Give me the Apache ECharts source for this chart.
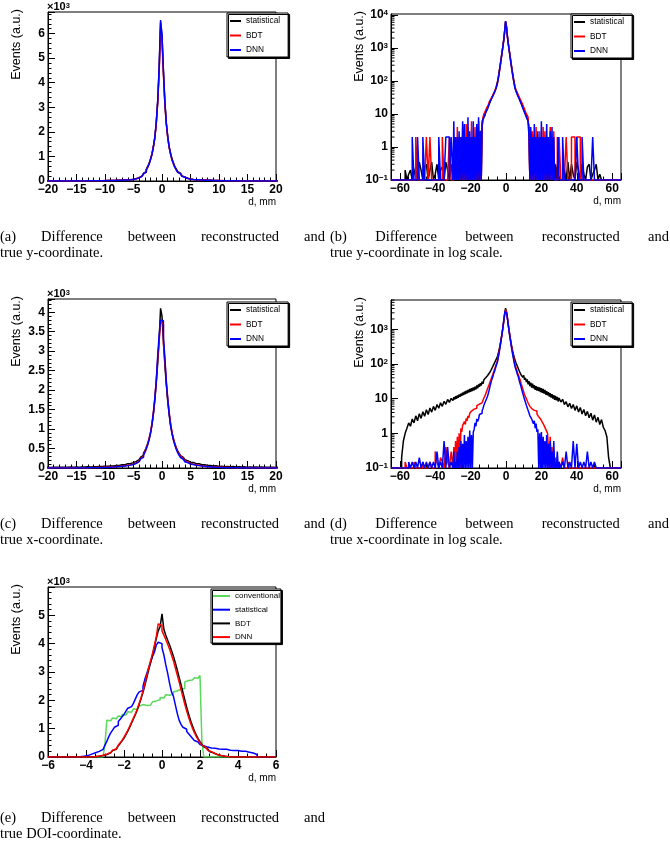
<!DOCTYPE html>
<html><head><meta charset="utf-8">
<script src="https://cdn.jsdelivr.net/npm/echarts@6/dist/echarts.min.js"></script>
<style>html,body{margin:0;padding:0;background:#fff}#c{width:670px;height:852px}</style>
</head><body><div id="c"></div>
<script>
// ---------------- DATA ----------------
// Bin layout (mm) for the y- and x-coordinate histograms: [from, to, binWidth]
const xyBinSegments = [[-65,-30,1],[-30,-5,0.5],[-5,5,0.25],[5,30,0.5],[30,65,1]];
// DOI histogram binning
const doiBinSegments = [[-6,-4.5,1.5],[-4.5,5.2,0.1],[5.2,6,0.8]];

// y-coordinate difference (panels a,b). Core: bins -5..5 (natural order).
// Left/Right: listed outward from |d|=5 (0.5 mm bins to 30, then 1 mm bins to 65).
const yStatCore = [85,98,118,140,172,208,258,312,390,480,600,725,910,1110,1420,1780,2380,3250,4550,6450,5900,4450,3200,2360,1810,1400,1130,905,740,590,490,385,318,255,210,168,142,116,100,84];
const yStatRight = [66,55,48,40,36,30,27,22,20,16,15,12,11,9,8,6,
 4,0,3,0,2.5,0,2,0,1.6,0,1.3,0,1.1,0,0.9,0,0.8,0,0.6,0,0.5,0,0.45,0,0.4,0,0.35,0,0.3,0,0.3,0,0.25,0,
 0,0,0,0.2,0,0.35,0,0.3,0.15,0,0.35,0.2,0,0.3,0.15,0,0.25,0.3,0,0.15,0.2,0.3,0,0.15,0,0,0,0,0,0,0,0,0,0,0];
const yStatLeft = [67,54,47,41,35,31,26,23,20,17,14,13,11,9,8,7,
 4.2,0,3.1,0,2.4,0,1.9,0,1.5,0,1.2,0,1,0,0.85,0,0.7,0,0.6,0,0.5,0,0.4,0,0.35,0,0.3,0,0.3,0,0.25,0,0.2,0,
 0.3,0,0.2,0.35,0,0.25,0.2,0,0.3,0.15,0,0.35,0.2,0,0.3,0.25,0,0.2,0.35,0,0.25,0.15,0,0.2,0.15,0,0.2,0,0,0,0,0,0,0,0];
const yBdtCore = [80,92,110,130,160,195,240,295,368,455,575,700,890,1100,1400,1760,2350,3200,4400,6150,5650,4350,3150,2330,1790,1380,1100,880,712,565,462,362,298,240,198,158,134,108,95,80];
const yBdtRight = [65,56,49,42,38,32,30,25,23,19,18,14,13,10,10,8,
 2,0,2,0,3,0,2,0,4,0,2,0,3,0,2,0,4,0,3,0,2,0,2,0,4,0,2,0,3,0,0,0,2,0,
 2,0,0,0,2,0,0,2,2,0,2,2,0,0,0,0,0,0,0,0,0,0,0,0,0,0,0,0,0,0,0,0,0,0,0];
const yBdtLeft = [66,55,48,42,37,32,29,25,23,19,17,15,13,11,10,8,
 4,0,2,0,6,0,2,0,4,0,2,0,6,0,2,0,4,0,5,0,2,0,4,0,2,0,2,0,4,0,2,0,2,0,
 0,2,0,0,0,2,0,0,0,0,0,0,2,0,2,0,0,0,0,0,2,0,0,0,0,0,0,0,0,0,0,0,0,0,0];
const yDnnCore = [78,88,108,126,157,188,238,288,362,448,565,695,885,1090,1410,1790,2420,3280,4620,6550,5950,4500,3250,2380,1820,1390,1110,870,705,555,455,355,292,232,192,152,130,104,92,76];
const yDnnRight = [62,51,46,37,35,28,26,21,20,15,15,11,11,8,9,6,
 2,0,4,0,2,0,5,0,2,0,3,0,2,0,6,0,2,0,2,0,5,0,2,0,3,0,4,0,2,0,0,0,0,2,
 0,0,2,0,0,0,0,0,0,0,2,0,0,2,0,0,0,0,0,2,0,0,0,0,0,0,0,0,0,0,0,0,0,0,0];
const yDnnLeft = [63,52,45,39,33,30,25,24,19,17,14,12,11,9,8,7,
 6,0,3,0,8,0,5,0,2,0,6,0,2,0,3,0,8,0,2,0,5,0,6,0,2,0,3,0,2,0,2,0,6,0,
 2,0,2,2,0,0,0,2,0,0,0,0,0,0,0,0,2,0,0,2,0,0,2,0,0,0,0,0,0,0,0,0,0,0,0];

// x-coordinate difference (panels c,d), same layout
const xStatCore = [152,170,190,215,245,280,325,380,445,530,630,760,920,1120,1400,1750,2200,2700,3300,4100,3900,3250,2650,2150,1720,1380,1100,900,750,620,520,440,375,320,275,240,212,188,168,150];
const xStatRight = [140,112,110,85,86,63,67,49,55,41,47,35,40,30,36,26,32,23,29,21,27,20,24.5,18,23,17,22,16.5,21,15.5,20,14.8,19,14,17.8,13,16.5,12.5,15.5,11.5,14.5,10.8,13.5,10,12.6,9.3,12,8.9,11.3,8.3,
 10.5,8,9.6,6.8,8.2,5.8,7.4,5.2,6.8,4.6,6.2,4.1,5.6,3.6,4.9,3.2,4.3,2.8,3.8,2.4,3.4,2.1,2.9,1.8,2.5,1.5,1.2,0.8,0.2,0,0,0,0,0,0];
const xStatLeft = [138,114,108,86,84,64,66,50,54,42,46,36,40,31,35,27,31,24,28,22,26,20,24,18.5,22,17.5,21,16.5,20,15.8,19,15,18,14.2,17,13.5,16,12.8,15,12,14,11.3,13.2,10.6,12.4,10,11.8,9.4,11,8.8,
 10.2,7.8,9.5,6.9,8.4,6,7.6,5.3,6.8,4.6,6,4.1,5.4,3.5,4.8,3.1,4.2,2.7,3.7,2.3,3.2,2,2.6,1.6,2.0,1.4,1.0,0.6,0.2,0,0,0,0,0,0];
const xBdtCore = [115,133,155,180,212,250,295,350,420,510,620,750,920,1150,1450,1800,2250,2800,3250,3750,3700,3200,2750,2250,1800,1450,1150,920,750,620,510,420,350,295,250,212,180,155,133,115];
const xBdtRight = [98,82,69,56,49,40,35,28,25,19,17,13,12,10,9.5,7.5,7.5,6,6.5,5.2,5.8,4.6,5.2,4.1,4.4,3.6,3.8,3.0,3.3,2.6,2.7,2.1,2.3,1.7,1.8,1.3,1.4,1.0,1.1,0,0.8,0,0.4,0,0.3,0,0.2,0,0.15,0,
 0.15,0,0.2,0,0,0.15,0,0,0,0,0,0,0,0,0,0,0,0,0,0,0,0,0,0,0,0,0,0,0,0,0,0,0,0,0];
const xBdtLeft = [100,83,71,57,50,40,36,29,26,20,19,14,13.5,11,10.5,9,
 8.5,7.6,7.8,6.6,7.0,6.0,6.3,5.3,5.6,4.6,5.0,4.1,4.4,3.4,3.8,2.8,3.2,2.3,2.7,1.8,2.2,1.5,1.7,1.1,1.4,0,1.0,0,0.8,0,0.6,0,0.4,0,
 0.3,0,0.15,0.4,0,0.15,0.2,0,0.15,0.3,0,0,0.15,0,0,0,0.15,0,0,0,0,0.15,0,0,0,0,0.15,0,0,0,0,0,0,0,0];
const xDnnCore = [102,118,138,166,193,232,272,333,398,492,598,735,895,1125,1415,1805,2245,2900,3400,3800,3780,3350,2850,2200,1780,1400,1100,890,720,590,480,395,325,270,225,190,160,138,118,102];
const xDnnRight = [88,72,61,49,42,33,29,22,20,14,13,9.5,9,6.5,6.2,4.6,4.4,3.2,3.3,2.6,2.8,1.9,2.3,1.4,1.9,1.1,
 1.3,0,1.0,0,1.1,0,0.8,0,0.6,0,0.9,0,0.5,0,0.6,0,0.3,0,0.6,0,0.15,0,0.3,0,
 0.15,0,0.15,0,0.3,0,0.15,0,0.6,0,0.5,0,0.15,0,0.15,0,0.3,0,0.15,0,0.15,0,0,0,0,0,0,0,0,0,0,0,0,0,0];
const xDnnLeft = [90,74,61,52,42,36,29,23,18,14,11.5,10,8.5,7.5,6.5,5.2,4.5,3.8,3.2,3.5,2.6,2.2,2.6,1.6,2,1.3,
 1.1,0,0.9,0,1.2,0,0.8,0,0.6,0,0.9,0,0.5,0,0.6,0,0.4,0,0.3,0,0.15,0,0.3,0,
 0.15,0,0.4,0,0.6,0,0.15,0,0.3,0,0.15,0,0.15,0,0.15,0,0.15,0,0.2,0,0.15,0,0.15,0,0.15,0,0,0,0,0,0,0,0,0,0];

// DOI difference (panel e): first bin -6..-4.5, then 0.1 mm bins -4.5..5.2, last bin 5.2..6
const doiConv = [0, 0,0,0,0,0,0,0,0,0,0, 0,0,0,0,0,500,1300,1280,1350,1380, 1350,1420,1450,1420,1500,1480,1550,1600,1580,1650, 1700,1680,1750,1800,1850,1780,1820,1750,1830,1900, 1950,1980,2050,2020,2100,2080,2150,2200,2180,2250, 2220,2300,2330,2280,2400,2380,2420,2650,2700,2680, 2720,2700,2800,2780,2850,2880,550,0,0,0, 0,0,0,0,0,0,0,0,0,0, 0,0,0,0,0,0,0,0,0,0, 0,0,0,0,0,0,0, 0];
const doiStat = [0, 0,10,20,30,40,50,70,100,130,150, 170,200,230,270,330,420,560,720,850,950, 1050,1120,1250,1330,1420,1500,1620,1720,1780,1800, 1900,2050,2200,2300,2350,2500,2750,2950,3150,3350, 3550,3700,3950,4050,4000,3850,3600,3250,2950,2600, 2300,2150,1850,1550,1300,1150,1050,980,900,820, 740,660,580,530,480,440,400,370,350,330, 320,300,310,290,280,290,270,260,270,250, 240,250,230,220,230,210,200,190,200,180, 170,160,140,120,90,0,0, 0];
const doiBdt = [0, 0,0,0,0,0,0,0,3,6,10, 16,25,36,50,68,88,115,145,180,225, 275,335,400,480,570,670,790,910,1050,1200, 1350,1500,1670,1860,2060,2280,2530,2800,3080,3330, 3600,3880,4180,4450,4600,5050,4500,4300,4120,3950, 3760,3560,3330,3080,2820,2560,2290,2020,1760,1520, 1300,1100,930,780,650,540,440,360,295,240, 190,150,115,88,68,50,38,28,20,14, 9,5,3,1,0,0,0,0,0,0, 0,0,0,0,0,0,0, 0];
const doiDnn = [0, 0,0,0,0,0,0,0,4,8,14, 22,32,45,60,80,100,130,160,195,240, 290,350,420,500,590,700,820,940,1080,1230, 1380,1520,1700,1900,2100,2330,2600,2880,3150,3400, 3650,3950,4250,4700,4650,4450,4300,4150,3980,3800, 3600,3400,3150,2900,2650,2380,2120,1860,1620,1400, 1200,1020,870,730,610,500,420,350,290,240, 190,150,120,90,70,55,40,30,22,15, 10,6,4,2,0,0,0,0,0,0, 0,0,0,0,0,0,0, 0];

const captions = [
  ['(a) Difference between reconstructed and', 'true y-coordinate.'],
  ['(b) Difference between reconstructed and', 'true y-coordinate in log scale.'],
  ['(c) Difference between reconstructed and', 'true x-coordinate.'],
  ['(d) Difference between reconstructed and', 'true x-coordinate in log scale.'],
  ['(e) Difference between reconstructed and', 'true DOI-coordinate.']
];

// ---------------- BUILD ----------------
const SANS = 'Liberation Sans', SERIF = 'Liberation Serif';
function edgesFrom(segs){ const e=[segs[0][0]]; segs.forEach(([a,b,w])=>{ const n=Math.round((b-a)/w); for(let i=1;i<=n;i++) e.push(+(a+w*i).toFixed(4)); }); return e; }
const xyEdges = edgesFrom(xyBinSegments), doiEdges = edgesFrom(doiBinSegments);
function joinHist(name, left, core, right){ const v=[...left.slice().reverse(), ...core, ...right]; if(v.length!==xyEdges.length-1) throw new Error(name+' has '+v.length); return v; }
const Y = {stat: joinHist('yStat',yStatLeft,yStatCore,yStatRight), bdt: joinHist('yBdt',yBdtLeft,yBdtCore,yBdtRight), dnn: joinHist('yDnn',yDnnLeft,yDnnCore,yDnnRight)};
const X = {stat: joinHist('xStat',xStatLeft,xStatCore,xStatRight), bdt: joinHist('xBdt',xBdtLeft,xBdtCore,xBdtRight), dnn: joinHist('xDnn',xDnnLeft,xDnnCore,xDnnRight)};
[doiConv,doiStat,doiBdt,doiDnn].forEach((a,i)=>{ if(a.length!==doiEdges.length-1) throw new Error('doi '+i+' has '+a.length+' vs '+(doiEdges.length-1)); });

function histPoints(edges, vals, floor){
  const f = v => floor!=null ? Math.max(v, floor) : v;
  const pts = vals.map((v,i)=>[edges[i], f(v)]);
  pts.push([edges[edges.length-1], f(vals[vals.length-1])]);
  return pts;
}
const minus = s => String(s).replace('-', '\u2212');

const panels = [
 {k:'a', left:48, top:12, width:228, height:169, xMin:-20, xMax:20, xInt:5, xMinor:5, log:false, yMax:6880, yInt:1000, yMinor:5, edges:xyEdges,
  ser:[['statistical','#000000',Y.stat],['BDT','#ff0000',Y.bdt],['DNN','#0000ff',Y.dnn]], lg:{left:227, top:13, iw:11, pad:[3,8,2,3], gap:4.5, fs:8.3}},
 {k:'b', left:391, top:14, width:230, height:166, xMin:-65, xMax:65, xStep:20, xMinor:4, log:true, yMax:10700, edges:xyEdges,
  ser:[['statistical','#000000',Y.stat],['BDT','#ff0000',Y.bdt],['DNN','#0000ff',Y.dnn]], lg:{left:571, top:14, iw:11, pad:[3,8,2,3], gap:4.5, fs:8.3}},
 {k:'c', left:48, top:299, width:228, height:169, xMin:-20, xMax:20, xInt:5, xMinor:5, log:false, yMax:4340, yInt:500, yMinor:5, edges:xyEdges,
  ser:[['statistical','#000000',X.stat],['BDT','#ff0000',X.bdt],['DNN','#0000ff',X.dnn]], lg:{left:227, top:302, iw:11, pad:[3,8,2,3], gap:4.5, fs:8.3}},
 {k:'d', left:391, top:300, width:230, height:168, xMin:-65, xMax:65, xStep:20, xMinor:4, log:true, yMax:7030, edges:xyEdges,
  ser:[['statistical','#000000',X.stat],['BDT','#ff0000',X.bdt],['DNN','#0000ff',X.dnn]], lg:{left:571, top:302, iw:11, pad:[3,8,2,3], gap:4.5, fs:8.3}},
 {k:'e', left:48, top:587, width:228, height:170, xMin:-6, xMax:6, xInt:2, xMinor:4, log:false, yMax:6000, yInt:1000, yMinor:5, edges:doiEdges,
  ser:[['conventional','#5ad95a',doiConv],['statistical','#0000ff',doiStat],['BDT','#000000',doiBdt],['DNN','#ff0000',doiDnn]], lg:{left:211, top:589, iw:17, pad:[2,1,1,2], gap:3.7, fs:8}}
];

const grids=[], xAxes=[], yAxes=[], series=[], legends=[], graphics=[];
const lblBase = {color:'#000', fontFamily:SANS, fontWeight:'bold', fontSize:12};
const tick = {show:true, inside:true, length:7, lineStyle:{color:'#000', width:1}};
const minorTick = n => ({show:true, splitNumber:n, length:3.5, lineStyle:{color:'#000', width:1}});
const axLine = {show:true, onZero:false, lineStyle:{color:'#000', width:1}};

panels.forEach((p,i)=>{
  grids.push({left:p.left, top:p.top, width:p.width, height:p.height, show:true, borderColor:'#000', borderWidth:1, backgroundColor:'#fff', containLabel:false});
  const xa = {type:'value', gridIndex:i, min:p.xMin, max:p.xMax, splitLine:{show:false},
    axisLine:axLine, axisTick:tick, minorTick:minorTick(p.xMinor),
    axisLabel:Object.assign({margin:3, showMinLabel:true, showMaxLabel:true}, lblBase)};
  if (p.xInt) { xa.interval = p.xInt; xa.axisLabel.formatter = v => minus(v); }
  else { xa.splitNumber = 6; xa.axisLabel.formatter = v => (Math.abs(v % p.xStep) < 1e-9 ? minus(v) : ''); }
  xAxes.push(xa);
  let ya;
  if (p.log) {
    ya = {type:'log', logBase:10, gridIndex:i, min:0.1, max:p.yMax, splitLine:{show:false},
      axisLine:axLine, axisTick:tick, minorTick:{show:false},
      axisLabel:Object.assign({margin:3, showMaxLabel:false, formatter: v => {
        const l = Math.log10(v), e = Math.round(l);
        if (Math.abs(l-e) > 0.01) return '';
        if (e === 0) return '1'; if (e === 1) return '10';
        return '10{s|' + minus(e) + '}';
      }, rich:{s:{fontSize:8, fontWeight:'bold', fontFamily:SANS, color:'#000', verticalAlign:'top', lineHeight:12}}}, lblBase)};
  } else {
    ya = {type:'value', gridIndex:i, min:0, max:p.yMax, interval:p.yInt, splitLine:{show:false},
      axisLine:axLine, axisTick:tick, minorTick:minorTick(p.yMinor),
      axisLabel:Object.assign({margin:3, showMaxLabel:false, formatter: v => {
        const r = v / p.yInt; if (Math.abs(r - Math.round(r)) > 1e-6) return '';
        return String(+(v/1000).toFixed(2));
      }}, lblBase)};
  }
  yAxes.push(ya);
  const names = [];
  p.ser.forEach(([nm,col,vals])=>{
    const name = p.k + ':' + nm; names.push(name);
    series.push({type:'line', name, xAxisIndex:i, yAxisIndex:i, step:'end', showSymbol:false, symbol:'none', silent:true,
      color:col, lineStyle:{color:col, width:1.5}, clip:true, animation:false,
      data: histPoints(p.edges, vals, p.log ? 0.1 : null)});
  });
  legends.push({data:names, orient:'vertical', left:p.lg.left, top:p.lg.top, icon:'rect', itemWidth:p.lg.iw, itemHeight:2,
    itemGap:p.lg.gap, padding:p.lg.pad, backgroundColor:'#fff', borderColor:'#000', borderWidth:1,
    shadowColor:'#000', shadowBlur:0, shadowOffsetX:1.5, shadowOffsetY:1.5, selectedMode:false,
    formatter: n => n.slice(2), textStyle:{fontFamily:SANS, fontSize:p.lg.fs, color:'#000', lineHeight:10}});
  graphics.push({type:'text', x:p.left-31, y:p.top-3, rotation:Math.PI/2, silent:true,
    style:{text:'Events (a.u.)', fontFamily:SANS, fontSize:12.5, fill:'#000', align:'right', verticalAlign:'middle', textAlign:'right', textVerticalAlign:'middle'}});
  graphics.push({type:'text', x:p.left+p.width, y:p.top+p.height+21, silent:true,
    style:{text:'d, mm', fontFamily:SANS, fontSize:10, fill:'#000', align:'right', verticalAlign:'middle', textAlign:'right', textVerticalAlign:'middle'}});
  if (!p.log) {
    graphics.push({type:'text', x:p.left-1, y:p.top-5, silent:true,
      style:{text:'\u00d710{s|3}', fontFamily:SANS, fontSize:11, fontWeight:'bold', fill:'#000', align:'left', verticalAlign:'middle', textAlign:'left', textVerticalAlign:'middle',
        rich:{s:{fontSize:7.5, fontWeight:'bold', fontFamily:SANS, fill:'#000', color:'#000', verticalAlign:'top'}}}});
  }
});

// captions (first line justified)
const CAP_FS = 14.5;
const ctx = document.createElement('canvas').getContext('2d');
ctx.font = CAP_FS + 'px "' + SERIF + '"';
const capPos = [[0,325,237],[330,669,237],[0,325,524],[330,669,524],[0,325,818]];
captions.forEach(([l1,l2],i)=>{
  const [x0,x1,y] = capPos[i];
  const words = l1.split(' ');
  const ws = words.map(w => ctx.measureText(w).width);
  const gap = (x1 - x0 - ws.reduce((a,b)=>a+b,0)) / (words.length - 1);
  let x = x0;
  words.forEach((w,j)=>{
    graphics.push({type:'text', x, y, silent:true, style:{text:w, fontFamily:SERIF, fontSize:CAP_FS, fill:'#000', align:'left', verticalAlign:'middle', textAlign:'left', textVerticalAlign:'middle'}});
    x += ws[j] + gap;
  });
  graphics.push({type:'text', x:x0, y:y+16.5, silent:true, style:{text:l2, fontFamily:SERIF, fontSize:CAP_FS, fill:'#000', align:'left', verticalAlign:'middle', textAlign:'left', textVerticalAlign:'middle'}});
});

const chart = echarts.init(document.getElementById('c'), null, {renderer:'canvas'});
chart.setOption({
  animation:false, backgroundColor:'#fff', textStyle:{fontFamily:SANS},
  grid:grids, xAxis:xAxes, yAxis:yAxes, series, legend:legends, graphic:{elements:graphics}
});

// log-axis minor ticks (2..9 per decade), positioned through the axis scale
const minorLines = [];
panels.forEach((p,i)=>{
  if (!p.log) return;
  for (let e = -1; e <= 4; e++) for (let m = 2; m <= 9; m++) {
    const v = m * Math.pow(10, e);
    if (v <= 0.1 || v >= p.yMax) continue;
    const py = chart.convertToPixel({yAxisIndex:i}, v);
    if (!isFinite(py)) continue;
    minorLines.push({type:'line', silent:true, z:50, shape:{x1:p.left, y1:py, x2:p.left+3.5, y2:py}, style:{stroke:'#000', lineWidth:1}});
  }
});
chart.setOption({graphic:{elements:graphics.concat(minorLines)}});
</script></body></html>
